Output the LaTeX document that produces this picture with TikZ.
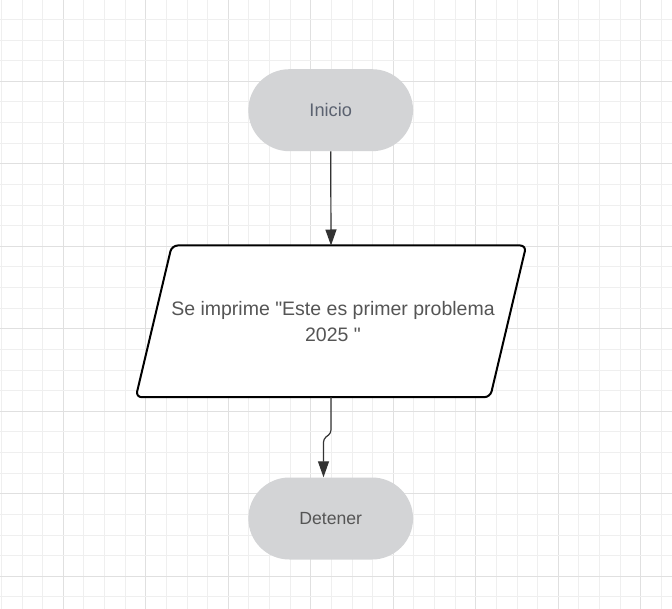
\documentclass[tikz,border=0pt]{standalone}
\usepackage{fontspec}
\setmainfont{Liberation Sans}[Ligatures=TeXOff]
\usetikzlibrary{arrows.meta,calc}
\definecolor{gridminor}{HTML}{EFEFEF}
\definecolor{gridmajor}{HTML}{E0E0E0}
\definecolor{termfill}{HTML}{D3D4D6}
\definecolor{termtext}{HTML}{5B6270}
\definecolor{bodytext}{HTML}{555555}
\definecolor{connclr}{HTML}{333333}
\tikzset{
  terminal/.style={rectangle, rounded corners=41pt, fill=termfill, minimum width=164.7pt, minimum height=82pt, inner sep=0pt},
  iobox/.style={rectangle, minimum width=354pt, minimum height=151.3pt, inner sep=0pt, align=center, text=bodytext},
  ioshape/.style={draw=black, line width=2pt, rounded corners=6pt, fill=white},
  conn/.style={draw=connclr, line width=1.2pt, -{Triangle[length=16pt,width=11pt]}, rounded corners=3pt},
}
\begin{document}
\begin{tikzpicture}[x=1pt,y=-1pt]
\useasboundingbox (0,0) rectangle (672,609);
\fill[white] (0,0) rectangle (672,609);
\begin{scope}
\clip (0,0) rectangle (672,609);
\foreach \k in {0,...,32}{
  \pgfmathsetmacro{\xx}{1.4+20.625*\k}
  \pgfmathtruncatemacro{\mm}{mod(\k,4)}
  \ifnum\mm=3
    \draw[gridmajor, line width=1pt] (\xx,0) -- (\xx,609);
  \else
    \draw[gridminor, line width=1pt] (\xx,0) -- (\xx,609);
  \fi
}
\foreach \k in {0,...,29}{
  \pgfmathsetmacro{\yy}{19.4+20.625*\k}
  \pgfmathtruncatemacro{\mm}{mod(\k,4)}
  \ifnum\mm=3
    \draw[gridmajor, line width=1pt] (0,\yy) -- (672,\yy);
  \else
    \draw[gridminor, line width=1pt] (0,\yy) -- (672,\yy);
  \fi
}
\end{scope}

\node[terminal, text=termtext, font=\fontsize{18.2pt}{22pt}\selectfont] (start) at (330.7,110.2) {Inicio};

\node[iobox] (io) at (331,321.35) {};
\draw[ioshape] ([xshift=18pt]io.north west) -- ([xshift=18pt]io.north east) -- ([xshift=-18pt]io.south east) -- ([xshift=-18pt]io.south west) -- cycle;
\node[align=center, text=bodytext, font=\fontsize{19.5pt}{26pt}\selectfont] (iotext) at (333,322) {Se imprime "Este es primer problema\\2025 "};

\node[terminal, text=bodytext, font=\fontsize{17.6pt}{22pt}\selectfont] (stop) at (330.7,518.5) {Detener};

\coordinate (j1) at (331,433);
\coordinate (j2) at (323.5,439);

\draw[conn] (start.south) -- (io.north);
\draw[conn] (io.south) -- (j1) -- (j2) -- (j2 |- stop.north);
\end{tikzpicture}
\end{document}
